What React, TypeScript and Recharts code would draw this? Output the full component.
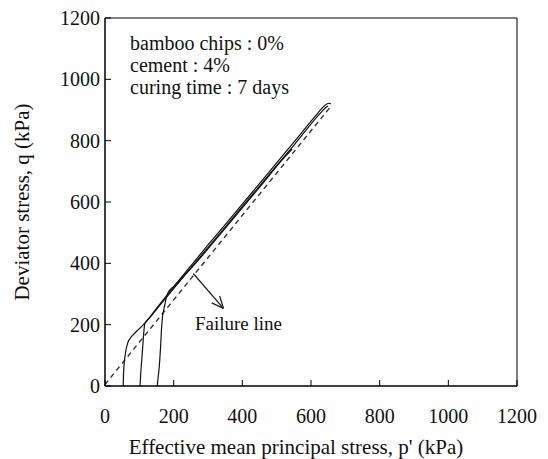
import { LineChart, Line, XAxis, YAxis, ReferenceArea, ReferenceLine, ReferenceDot } from 'recharts';

const FONT = 'Liberation Serif, DejaVu Serif, serif';

const xTicks = [0, 200, 400, 600, 800, 1000, 1200];
const yTicks = [0, 200, 400, 600, 800, 1000, 1200];

// stress paths, p' (kPa) and q (kPa)
const path1P = [53, 54, 56, 60, 66, 73, 90, 112, 150, 189, 250, 300, 364, 450, 550, 620, 640, 652, 658];
const path1Q = [0, 40, 74, 110, 140, 155, 176, 200, 253, 308, 392, 460, 545, 660, 795, 890, 915, 922, 920];
const path2P = [102, 104, 107, 110, 113, 116, 130, 150, 189, 250, 364, 450, 550, 630, 645, 650];
const path2Q = [0, 40, 85, 130, 175, 204, 222, 250, 303, 385, 537, 652, 785, 893, 910, 913];
const path3P = [152, 155, 158, 162, 165, 168, 172, 178, 184, 200, 250, 364, 450, 530, 545];
const path3Q = [0, 30, 63, 130, 193, 230, 253, 285, 305, 325, 383, 533, 648, 755, 772];
const failP = [0, 660];
const failQ = [5, 915];

const infoLines = ['bamboo chips : 0%', 'cement : 4%', 'curing time : 7 days'];
const infoAt = { x: 73, y: 1095 };
const arrowFrom = { x: 257, y: 367 };
const arrowTo = { x: 345, y: 253 };
const failLabelAt = { x: 262, y: 182 };

const toPts = (ps: number[], qs: number[]) => ps.map((p, i) => ({ p, q: qs[i] }));
const path1 = toPts(path1P, path1Q);
const path2 = toPts(path2P, path2Q);
const path3 = toPts(path3P, path3Q);
const failLine = toPts(failP, failQ);

const tickStyle = { fill: '#111', fontSize: 20, fontFamily: FONT };

function Arrow(props: any) {
  const { x1, y1, x2, y2 } = props;
  const ang = Math.atan2(y2 - y1, x2 - x1);
  const len = 13;
  const a1 = ang + Math.PI - 0.42;
  const a2 = ang + Math.PI + 0.42;
  return (
    <g stroke="#222" strokeWidth={1.3} fill="none">
      <line x1={x1} y1={y1} x2={x2} y2={y2} />
      <line x1={x2} y1={y2} x2={x2 + len * Math.cos(a1)} y2={y2 + len * Math.sin(a1)} />
      <line x1={x2} y1={y2} x2={x2 + len * Math.cos(a2)} y2={y2 + len * Math.sin(a2)} />
    </g>
  );
}

export default function App() {
  return (
    <div style={{ position: 'absolute', left: 0, top: 0, width: 548, height: 459, background: '#fff', fontFamily: FONT }}>
      <LineChart width={548} height={459} margin={{ top: 18, right: 31, bottom: 0, left: 0 }} style={{ fontFamily: FONT }}>
        <XAxis type="number" dataKey="p" domain={[0, 1200]} ticks={xTicks} interval={0}
          height={73} tickSize={-6} tickMargin={29} tick={tickStyle}
          axisLine={{ stroke: '#000' }} tickLine={{ stroke: '#000' }}
          label={{ value: "Effective mean principal stress, p' (kPa)", position: 'insideBottom', offset: 5, dx: -15,
            fill: '#111', fontSize: 21, fontFamily: FONT }} />
        <YAxis type="number" dataKey="q" domain={[0, 1200]} ticks={yTicks} interval={0}
          width={105} tickSize={-6} tickMargin={11} tick={tickStyle}
          axisLine={{ stroke: '#000' }} tickLine={{ stroke: '#000' }}
          label={{ value: 'Deviator stress, q (kPa)', angle: -90, position: 'insideLeft', offset: 22,
            fill: '#111', fontSize: 21, fontFamily: FONT, style: { textAnchor: 'middle' } }} />
        <ReferenceArea x1={0} x2={1200} y1={0} y2={1200} fill="none" stroke="#000" strokeWidth={1} />
        <Line data={failLine} dataKey="q" type="linear" stroke="#333" strokeWidth={1.4}
          strokeDasharray="5 4" dot={false} isAnimationActive={false} />
        <Line data={path1} dataKey="q" type="monotone" stroke="#111" strokeWidth={1.2}
          dot={false} isAnimationActive={false} />
        <Line data={path2} dataKey="q" type="monotone" stroke="#111" strokeWidth={1.2}
          dot={false} isAnimationActive={false} />
        <Line data={path3} dataKey="q" type="monotone" stroke="#111" strokeWidth={1.2}
          dot={false} isAnimationActive={false} />
        <ReferenceLine segment={[arrowFrom, arrowTo]} shape={Arrow} />
        <ReferenceDot x={failLabelAt.x} y={failLabelAt.y} r={0}
          shape={(p: any) => (
            <text x={p.cx} y={p.cy} fill="#111" fontSize={19} fontFamily={FONT}>Failure line</text>
          )} />
        <ReferenceDot x={infoAt.x} y={infoAt.y} r={0}
          shape={(p: any) => (
            <text x={p.cx} y={p.cy} fill="#111" fontSize={20} fontFamily={FONT}>
              {infoLines.map((t, i) => (
                <tspan key={t} x={p.cx} dy={i === 0 ? 0 : 22}>{t}</tspan>
              ))}
            </text>
          )} />
      </LineChart>
    </div>
  );
}
